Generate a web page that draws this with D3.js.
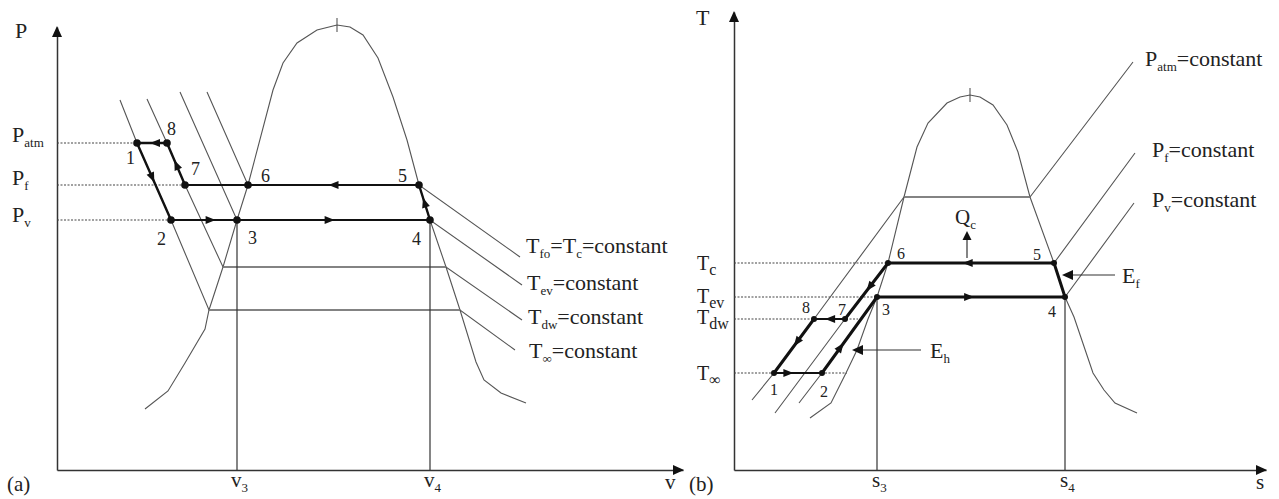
<!DOCTYPE html>
<meta charset="utf-8">
<style>
body { margin: 0; background: #fff; }
svg text { font-family: "Liberation Serif", "Times New Roman", serif; fill: #222; }
.domain { stroke: #333; stroke-width: 1.5; }
.thin { fill: none; stroke: #555; stroke-width: 1.1; }
.flat { fill: none; stroke: #777; stroke-width: 1.4; }
.drop { fill: none; stroke: #333; stroke-width: 1.2; }
.guide { fill: none; stroke: #444; stroke-width: 1.2; stroke-dasharray: 2,1.5; }
.cyc { fill: none; stroke: #111; stroke-linecap: round; stroke-linejoin: round; }
</style>
<svg id="chart" width="1279" height="499"></svg>
<script src="https://cdnjs.cloudflare.com/ajax/libs/d3/7.8.5/d3.min.js"></script>
<script>

// ---------- (a) P-v diagram ----------
var pvNames = ["1", "2", "3", "4", "5", "6", "7", "8"];
var pvV     = [16, 22.8, 36, 74.6, 72.4, 38.2, 25.6, 22];
var pvP     = [65.4, 50, 50, 50, 57, 57, 57, 65.4];

var pvLevelSubs = ["atm", "f", "v"];
var pvLevels    = [65.4, 57, 50];
var pvLevelEnds = [16, 25.6, 22.8];   // dotted guide runs to state 1, 7, 2

var pvDome = [[17.6,12.2],[22.2,15.8],[25.6,21.4],[29.6,28.2],[30.4,32],[33.2,40.6],[36,50],
  [38.2,57],[43.2,76],[45.2,81.4],[48,85.4],[52,88],[56,89],[58.6,88.6],[61.2,87],[64.2,82.4],
  [67.2,74.6],[70,66],[72.4,57],[74.6,50],[77.8,40.6],[80.6,32],[83.8,21.6],[85.4,18],
  [88.8,15.4],[93.8,13.4]];

// isotherms: liquid branch, flat part in the dome, vapour branch
var pvIsoFo  = [[30,75.6],[38.2,57],[72.4,57],[92.6,42.6]];
var pvIsoEv  = [[24.6,75.6],[36,50],[74.6,50],[93,37]];
var pvIsoDw  = [[18,74.2],[22,65.4],[25.6,57],[33.2,40.6],[77.8,40.6],[93,30]];
var pvIsoInf = [[12.6,74],[16,65.4],[22.8,50],[30.4,32],[80.6,32],[91.6,24]];

var pvThick  = [["1","2"], ["7","8"], ["8","1"], ["4","5"]];
var pvMedium = [["2","3"], ["3","4"], ["5","6"], ["6","7"]];
var pvArrows = [["8","1",0.4], ["1","2",0.45], ["2","3",0.6], ["3","4",0.48],
                ["4","5",0.5], ["5","6",0.5], ["7","8",0.48]];
var pvDrops  = ["3", "4"];

// ---------- (b) T-s diagram ----------
var tsNames = ["1", "2", "3", "4", "5", "6", "7", "8"];
var tsS     = [8, 17.6, 28.6, 66.2, 64, 30.8, 22.2, 16];
var tsT     = [19.4, 19.4, 34.6, 34.6, 41.4, 41.4, 30.2, 30.2];

var tsLevelSubs = ["c", "ev", "dw", "\u221e"];
var tsLevels    = [41.4, 34.6, 30.2, 19.4];
var tsLevelEnds = [30.8, 28.6, 24.8, 22.6];

var tsDome = [[15.2,10.4],[19.4,13.4],[22.4,19.4],[24.6,24],[26.8,30.2],[28.6,34.6],[30.8,41.4],
  [34,54.6],[36.6,64.6],[38.8,69.4],[42.6,73.4],[45.2,74.6],[47.2,75],[49.2,74.6],[51.8,73],
  [54.6,69],[56.8,63.6],[59.2,54.6],[64,41.4],[66.2,34.6],[68,30.6],[71.8,19.4],[74,16],
  [76.2,13.4],[80.6,11.4]];

var tsIsoAtm = [[3.6,14],[8,19.4],[16,30.2],[34,54.6],[59.2,54.6],[79.8,81.6]];
var tsIsoF   = [[8.2,11.4],[22.2,30.2],[30.8,41.4],[64,41.4],[80.2,63.4]];
var tsIsoV   = [[13,13.4],[17.6,19.4],[28.6,34.6],[66.2,34.6],[80,53.4]];

var tsThick  = [["5","6"], ["3","4"], ["6","7"], ["8","1"], ["2","3"], ["4","5"]];
var tsMedium = [["7","8"], ["1","2"]];
var tsArrows = [["6","7",0.43], ["8","1",0.43], ["7","8",0.48], ["1","2",0.3],
                ["2","3",0.34], ["3","4",0.49], ["5","6",0.52]];
var tsDrops  = ["3", "4"];

// ---------- drawing ----------
var svg = d3.select("#chart");

var xA = d3.scaleLinear().domain([0, 125.2]).range([57, 683]);
var yA = d3.scaleLinear().domain([0, 88.6]).range([470, 27]);
var xB = d3.scaleLinear().domain([0, 106.4]).range([734, 1266]);
var yB = d3.scaleLinear().domain([0, 91.6]).range([470, 12]);

function tri(g, tip, dir, len, hw) {
  var n = Math.hypot(dir[0], dir[1]), ux = dir[0] / n, uy = dir[1] / n;
  var bx = tip[0] - ux * len, by = tip[1] - uy * len;
  g.append("path")
    .attr("d", "M" + tip[0] + "," + tip[1] +
      "L" + (bx - uy * hw) + "," + (by + ux * hw) +
      "L" + (bx + uy * hw) + "," + (by - ux * hw) + "Z")
    .attr("fill", "#111");
}

// parts: [text, isSub]
function rich(g, x, y, parts, size, subSize, anchor) {
  var t = g.append("text").attr("x", x).attr("y", y)
    .style("font-size", size + "px").attr("text-anchor", anchor || "start");
  var low = false, shift = size * 0.24;
  parts.forEach(function (p) {
    var s = t.append("tspan").text(p[0]);
    if (p[1]) {
      s.style("font-size", subSize + "px");
      if (!low) { s.attr("dy", shift); low = true; }
    } else {
      s.style("font-size", size + "px");
      if (low) { s.attr("dy", -shift); low = false; }
    }
  });
  return t;
}

function panel(o) {
  var g = svg.append("g");
  var x = o.x, y = o.y;
  var line = d3.line().x(function (d) { return x(d[0]); }).y(function (d) { return y(d[1]); });
  var pt = {};
  o.names.forEach(function (n, i) { pt[n] = [o.xs[i], o.ys[i]]; });

  // axes
  g.append("g").attr("transform", "translate(0," + y(0) + ")")
    .call(d3.axisBottom(x).tickValues([]).tickSizeOuter(0));
  g.append("g").attr("transform", "translate(" + x(0) + ",0)")
    .call(d3.axisLeft(y).tickValues([]).tickSizeOuter(0));
  var xr = x.range(), yr = y.range();
  tri(g, [xr[1] + 1, yr[0]], [1, 0], 11, 5);
  tri(g, [xr[0], yr[1] - 1], [0, -1], 11, 5);

  // dotted guides
  o.levels.forEach(function (lv, i) {
    g.append("path").attr("class", "guide").attr("d", line([[0, lv], [o.levelEnds[i], lv]]));
  });

  // dome
  g.append("path").attr("class", "thin").attr("d", line(o.dome));
  var top = o.dome.reduce(function (a, b) { return b[1] > a[1] ? b : a; });
  g.append("line").attr("class", "thin")
    .attr("x1", x(top[0])).attr("x2", x(top[0]))
    .attr("y1", y(top[1]) - 7).attr("y2", y(top[1]) + 7);

  // constant-property lines (flat dome part drawn lighter)
  o.isos.forEach(function (iso) {
    g.append("path").attr("class", "thin").attr("d", line(iso));
  });
  o.flats.forEach(function (seg) {
    g.append("path").attr("class", "flat").attr("d", line(seg));
  });

  // drops to the abscissa
  o.drops.forEach(function (n) {
    g.append("path").attr("class", "drop").attr("d", line([pt[n], [pt[n][0], 0]]));
  });

  // cycle
  o.medium.forEach(function (s) {
    g.append("path").attr("class", "cyc").attr("stroke-width", o.medW).attr("d", line([pt[s[0]], pt[s[1]]]));
  });
  o.thick.forEach(function (s) {
    g.append("path").attr("class", "cyc").attr("stroke-width", o.thickW).attr("d", line([pt[s[0]], pt[s[1]]]));
  });
  o.arrows.forEach(function (a) {
    var p = pt[a[0]], q = pt[a[1]];
    var px = [x(p[0]), y(p[1])], qx = [x(q[0]), y(q[1])];
    var d = [qx[0] - px[0], qx[1] - px[1]], n = Math.hypot(d[0], d[1]);
    var m = [px[0] + d[0] * a[2] + d[0] / n * 5, px[1] + d[1] * a[2] + d[1] / n * 5];
    tri(g, m, d, 10, 4);
  });
  o.names.forEach(function (n) {
    g.append("circle").attr("cx", x(pt[n][0])).attr("cy", y(pt[n][1]))
      .attr("r", o.dotR).attr("fill", "#111");
  });
  o.names.forEach(function (n) {
    var off = o.numOff[n];
    g.append("text").attr("x", x(pt[n][0]) + off[0]).attr("y", y(pt[n][1]) + off[1])
      .style("font-size", o.numSize + "px").text(n);
  });
  return { g: g, pt: pt };
}

// (a)
var flatsA = [pvIsoDw.slice(3, 5), pvIsoInf.slice(3, 5)];
var A = panel({
  x: xA, y: yA, names: pvNames, xs: pvV, ys: pvP,
  levels: pvLevels, levelEnds: pvLevelEnds, dome: pvDome,
  isos: [pvIsoFo, pvIsoEv, pvIsoDw, pvIsoInf], flats: flatsA,
  drops: pvDrops, thick: pvThick, medium: pvMedium, arrows: pvArrows,
  thickW: 2.4, medW: 1.8, dotR: 3.8, numSize: 18,
  numOff: { "1": [-11, 21], "2": [-14, 25], "3": [11, 24], "4": [-18, 25],
            "5": [-21, -3], "6": [13, -3], "7": [6, -10], "8": [0, -8] }
});
rich(A.g, 15, 38, [["P", 0]], 22, 13);
pvLevelSubs.forEach(function (s, i) {
  rich(A.g, 12, yA(pvLevels[i]) + [-1, 0, 2][i], [["P", 0], [s, 1]], 22, 13);
});
var isoLabA = [
  { iso: pvIsoFo,  off: [6, -4], parts: [["T", 0], ["fo", 1], ["=T", 0], ["c", 1], ["=constant", 0]] },
  { iso: pvIsoEv,  off: [5, 5],  parts: [["T", 0], ["ev", 1], ["=constant", 0]] },
  { iso: pvIsoDw,  off: [6, 4],  parts: [["T", 0], ["dw", 1], ["=constant", 0]] },
  { iso: pvIsoInf, off: [14, 8], parts: [["T", 0], ["\u221e", 1], ["=constant", 0]] }
];
isoLabA.forEach(function (l) {
  var e = l.iso[l.iso.length - 1];
  rich(A.g, xA(e[0]) + l.off[0], yA(e[1]) + l.off[1], l.parts, 22, 13);
});
var baseY = 487;
pvDrops.forEach(function (n) {
  rich(A.g, xA(A.pt[n][0]) - 6, baseY, [["v", 0], [n, 1]], 21, 13);
});
rich(A.g, 665, baseY + 2, [["v", 0]], 21, 13);
rich(A.g, 7, baseY + 4, [["(a)", 0]], 21, 13);

// (b)
var B = panel({
  x: xB, y: yB, names: tsNames, xs: tsS, ys: tsT,
  levels: tsLevels, levelEnds: tsLevelEnds, dome: tsDome,
  isos: [tsIsoAtm, tsIsoF, tsIsoV], flats: [tsIsoAtm.slice(3, 5)],
  drops: tsDrops, thick: tsThick, medium: tsMedium, arrows: tsArrows,
  thickW: 3, medW: 2, dotR: 3, numSize: 16,
  numOff: { "1": [-4, 22], "2": [-2, 24], "3": [5, 18], "4": [-17, 20],
            "5": [-21, -3], "6": [9, -4], "7": [-7, -4], "8": [-12, -6] }
});
rich(B.g, 696, 25, [["T", 0]], 22, 13);
var tsLabelDy = [7, 6, 5, 7];
tsLevelSubs.forEach(function (s, i) {
  rich(B.g, 697, yB(tsLevels[i]) + tsLabelDy[i], [["T", 0], [s, 1]], 20, 16);
});
var isoLabB = [
  { iso: tsIsoAtm, off: [12, 4], sub: "atm" },
  { iso: tsIsoF,   off: [17, 4], sub: "f" },
  { iso: tsIsoV,   off: [18, 4], sub: "v" }
];
isoLabB.forEach(function (l) {
  var e = l.iso[l.iso.length - 1];
  rich(B.g, xB(e[0]) + l.off[0], yB(e[1]) + l.off[1], [["P", 0], [l.sub, 1], ["=constant", 0]], 22, 13);
});
tsDrops.forEach(function (n) {
  rich(B.g, xB(B.pt[n][0]) - 5, baseY, [["s", 0], [n, 1]], 21, 13);
});
rich(B.g, 1256, baseY + 2, [["s", 0]], 21, 13);
rich(B.g, 689, baseY + 4, [["(b)", 0]], 21, 13);

// heat and exergy pointers on (b)
var qcS = 46.6, efT = 39, ehT = 24;
B.g.append("line").attr("class", "drop").attr("x1", xB(qcS)).attr("x2", xB(qcS))
  .attr("y1", yB(42.4)).attr("y2", yB(46.6));
tri(B.g, [xB(qcS), yB(47.8)], [0, -1], 9, 4.5);
rich(B.g, xB(qcS) - 12, yB(49.2), [["Q", 0], ["c", 1]], 21, 13);

B.g.append("line").attr("class", "drop").attr("x1", xB(76.2)).attr("x2", xB(67))
  .attr("y1", yB(efT)).attr("y2", yB(efT));
tri(B.g, [xB(65.6), yB(efT)], [-1, 0], 11, 5);
rich(B.g, xB(77.6), yB(efT) + 8, [["E", 0], ["f", 1]], 22, 13);

B.g.append("line").attr("class", "drop").attr("x1", xB(37.4)).attr("x2", xB(25))
  .attr("y1", yB(ehT)).attr("y2", yB(ehT));
tri(B.g, [xB(23.6), yB(ehT)], [-1, 0], 11, 5);
rich(B.g, xB(39.2), yB(ehT) + 8, [["E", 0], ["h", 1]], 22, 13);

</script>
